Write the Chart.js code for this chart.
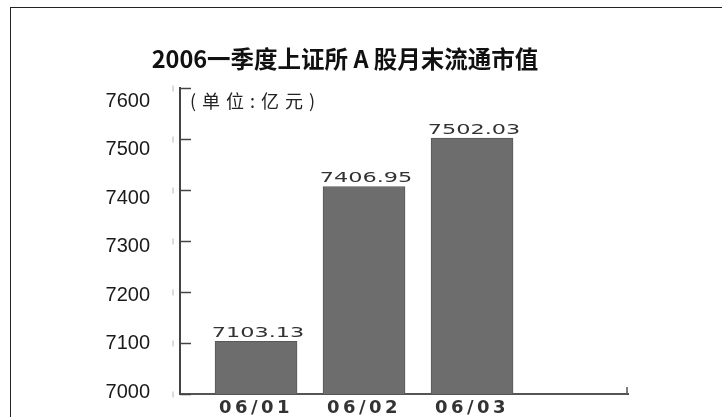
<!DOCTYPE html>
<html>
<head>
<meta charset="utf-8">
<script src="https://cdn.jsdelivr.net/npm/chart.js@4"></script>
<style>
  html, body { margin: 0; padding: 0; background: #fff; }
  #wrap { position: relative; width: 722px; height: 417px; overflow: hidden; }
  #frame { position: absolute; left: 10px; top: 7px; right: 0; bottom: 0;
           border-left: 1.5px solid #222; border-top: 1.5px solid #222; }
  #c { position: absolute; left: 0; top: 0; }
</style>
</head>
<body>
<div id="wrap">
  <div id="frame"></div>
  <canvas id="c" width="690" height="417"></canvas>
</div>
<script>
const chartTitle = '2006一季度上证所 A 股月末流通市值';
const unitLabel = '(单位:亿元)';
const categories = ['06/01', '06/02', '06/03'];
const values = [7103.13, 7406.95, 7502.03];
const yTicks = [7000, 7100, 7200, 7300, 7400, 7500, 7600];

// extra drawing: inward ticks, value labels, unit note
const decor = {
  id: 'decor',
  afterDatasetsDraw(chart) {
    const { ctx, chartArea: a, scales: { y } } = chart;
    ctx.save();
    ctx.lineWidth = 1.5;
    yTicks.forEach(v => {
      const py = Math.round(y.getPixelForValue(v)) + 0.5;
      ctx.strokeStyle = '#444';
      ctx.beginPath(); ctx.moveTo(a.left, py); ctx.lineTo(a.left + 11, py); ctx.stroke();
      ctx.strokeStyle = '#cfcfcf';
      ctx.beginPath(); ctx.moveTo(a.left - 7, py - 3); ctx.lineTo(a.left - 7, py + 3); ctx.stroke();
    });
    // little tick at the end of the x axis
    ctx.strokeStyle = '#555';
    ctx.beginPath(); ctx.moveTo(a.right - 1, a.bottom); ctx.lineTo(a.right - 1, a.bottom - 7); ctx.stroke();

    // values above bars (wide type, like the print)
    const meta = chart.getDatasetMeta(0);
    ctx.font = '14px "DejaVu Sans"';
    ctx.fillStyle = '#333';
    ctx.textAlign = 'center';
    ctx.textBaseline = 'alphabetic';
    meta.data.forEach((bar, i) => {
      ctx.save();
      ctx.translate(bar.x + 2, bar.y - 4);
      ctx.scale(1.6, 1);
      ctx.fillText(values[i].toFixed(2), 0, 0);
      ctx.restore();
    });

    ctx.font = '18px "Noto Sans CJK SC"';
    ctx.textAlign = 'left';
    ctx.textBaseline = 'middle';
    ctx.fillStyle = '#222';
    ctx.letterSpacing = '6px';
    ctx.fillText(unitLabel, a.left + 10, a.top + 13);
    ctx.restore();
    // x tick labels are drawn after this (z: 1), spaced out
    ctx.letterSpacing = '3.5px';
  },
  afterDraw(chart) {
    chart.ctx.letterSpacing = '0px';
  }
};

new Chart(document.getElementById('c'), {
  type: 'bar',
  data: {
    datasets: [{
      data: categories.map((c, i) => ({ x: i + 1, y: values[i] })),
      backgroundColor: '#6d6d6d',
      borderColor: '#585858',
      borderWidth: 1,
      barThickness: 82
    }]
  },
  options: {
    responsive: false,
    animation: false,
    layout: { padding: 0 },
    scales: {
      x: {
        type: 'linear',
        min: 0.296,
        max: 4.444,
        offset: false,
        grid: { display: false, drawTicks: false, offset: false },
        border: { display: true, color: '#555', width: 2 },
        afterBuildTicks: s => { s.ticks = categories.map((c, i) => ({ value: i + 1 })); },
        afterFit: s => { s.height = 23; },
        ticks: {
          z: 1,
          padding: 4,
          maxRotation: 0,
          autoSkip: false,
          color: '#333',
          font: { family: 'DejaVu Sans', size: 18, weight: 'bold' },
          callback: v => categories[v - 1] || ''
        }
      },
      y: {
        min: 7000,
        max: 7600,
        weight: 0,
        grid: { display: false, drawTicks: false },
        border: { display: true, color: '#444', width: 2 },
        ticks: { display: false, callback: v => String(v) },
        afterFit: s => { s.width = 30; }
      },
      yLabels: {
        type: 'linear',
        position: 'left',
        weight: 1,
        min: 6995.9,
        max: 7626.8,
        grid: { display: false, drawTicks: false },
        border: { display: false },
        afterBuildTicks: s => { s.ticks = yTicks.map(v => ({ value: v })); },
        afterFit: s => { s.width = 150; },
        ticks: {
          padding: 0,
          color: '#1a1a1a',
          font: { family: 'Liberation Sans', size: 20 },
          callback: v => String(v)
        }
      },
      yRight: {
        type: 'linear',
        position: 'right',
        grid: { display: false, drawTicks: false },
        border: { display: false },
        ticks: { display: false },
        afterFit: s => { s.width = 62; }
      }
    },
    plugins: {
      legend: { display: false },
      tooltip: { enabled: false },
      title: {
        display: true,
        text: chartTitle,
        color: '#111',
        font: { family: '"Noto Sans CJK SC", sans-serif', size: 23.5, weight: 'bold' },
        padding: { top: 45, bottom: 14.8 }
      }
    }
  },
  plugins: [decor]
});
</script>
</body>
</html>
